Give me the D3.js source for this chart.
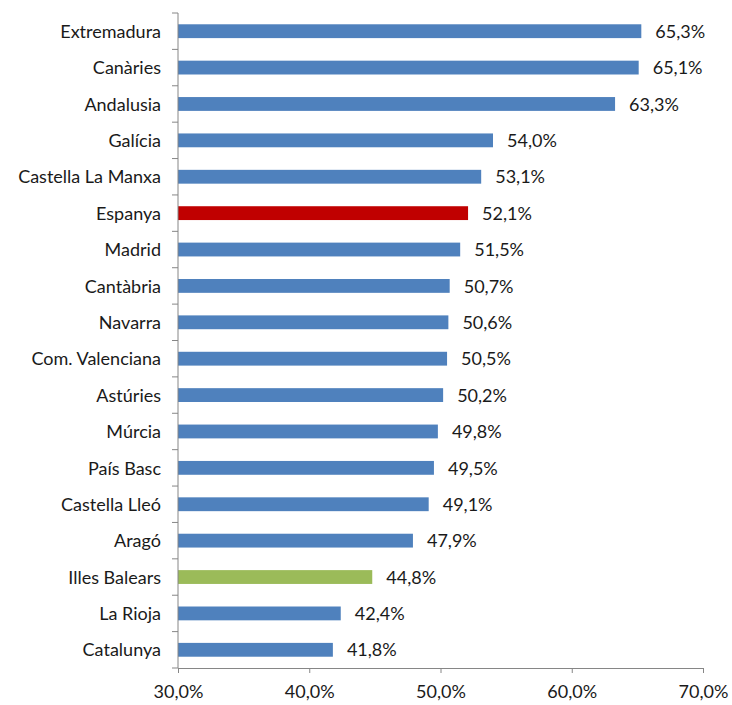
<!DOCTYPE html>
<html>
<head>
<meta charset="utf-8">
<script src="https://cdn.jsdelivr.net/npm/d3@7"></script>
<style>
  body { margin: 0; background: #fff; }
  svg text { font-family: Lato, "Open Sans", sans-serif; fill: #1a1a1a; }
</style>
</head>
<body>
<svg id="chart" width="732" height="705"></svg>
<script>
const regions = ["Extremadura", "Canàries", "Andalusia", "Galícia", "Castella La Manxa", "Espanya",
  "Madrid", "Cantàbria", "Navarra", "Com. Valenciana", "Astúries", "Múrcia", "País Basc",
  "Castella Lleó", "Aragó", "Illes Balears", "La Rioja", "Catalunya"];
const values = [65.3, 65.1, 63.3, 54.0, 53.1, 52.1, 51.5, 50.7, 50.6, 50.5, 50.2, 49.8, 49.5,
  49.1, 47.9, 44.8, 42.4, 41.8];
const xTicks = [30, 40, 50, 60, 70];

const svg = d3.select('#chart');
const margin = { top: 13, right: 30, bottom: 37, left: 178 };
const width = 732, height = 705;
const fontSize = 18;

const x = d3.scaleLinear().domain([30, 70]).range([margin.left, 703]);
const y = d3.scaleBand().domain(regions).range([margin.top, height - margin.bottom]).paddingInner(0.62).paddingOuter(0.31);

const fmt = v => v.toFixed(1).replace('.', ',') + '%';
const colorOf = d => d === 'Espanya' ? '#c00000' : d === 'Illes Balears' ? '#9bbb59' : '#4f81bd';

svg.selectAll('rect.bar').data(regions)
  .enter().append('rect')
  .attr('class', 'bar')
  .attr('x', x(30))
  .attr('y', d => y(d))
  .attr('width', (d, i) => x(values[i]) - x(30))
  .attr('height', y.bandwidth())
  .attr('fill', d => colorOf(d));

svg.selectAll('text.val').data(regions)
  .enter().append('text')
  .attr('class', 'val')
  .attr('x', (d, i) => x(values[i]) + 14)
  .attr('y', d => y(d) + y.bandwidth() / 2)
  .attr('dy', '0.37em')
  .attr('font-size', fontSize)
  .text((d, i) => fmt(values[i]));

// y axis with ticks on band boundaries
const yAxisG = svg.append('g');
const step = y.step();
const bounds = d3.range(regions.length + 1).map(i => margin.top + i * step);
yAxisG.append('line')
  .attr('x1', margin.left).attr('x2', margin.left)
  .attr('y1', margin.top).attr('y2', height - margin.bottom)
  .attr('stroke', '#868686');
yAxisG.selectAll('line.tk').data(bounds)
  .enter().append('line')
  .attr('x1', margin.left - 6).attr('x2', margin.left)
  .attr('y1', d => d).attr('y2', d => d)
  .attr('stroke', '#868686');
yAxisG.selectAll('text').data(regions)
  .enter().append('text')
  .attr('x', margin.left - 17)
  .attr('y', d => y(d) + y.bandwidth() / 2)
  .attr('dy', '0.37em')
  .attr('text-anchor', 'end')
  .attr('font-size', fontSize)
  .text(d => d);

// x axis
const xAxis = d3.axisBottom(x).tickValues(xTicks).tickFormat(fmt).tickSize(5).tickSizeOuter(0);
const xg = svg.append('g')
  .attr('transform', 'translate(0,' + (height - margin.bottom) + ')')
  .call(xAxis);
xg.select('.domain').attr('stroke', '#868686');
xg.selectAll('.tick line').attr('stroke', '#868686');
xg.selectAll('.tick text').attr('font-size', fontSize).attr('dy', '1.2em').attr('fill', '#1a1a1a').style('font-family', 'Lato, sans-serif');
</script>
</body>
</html>
